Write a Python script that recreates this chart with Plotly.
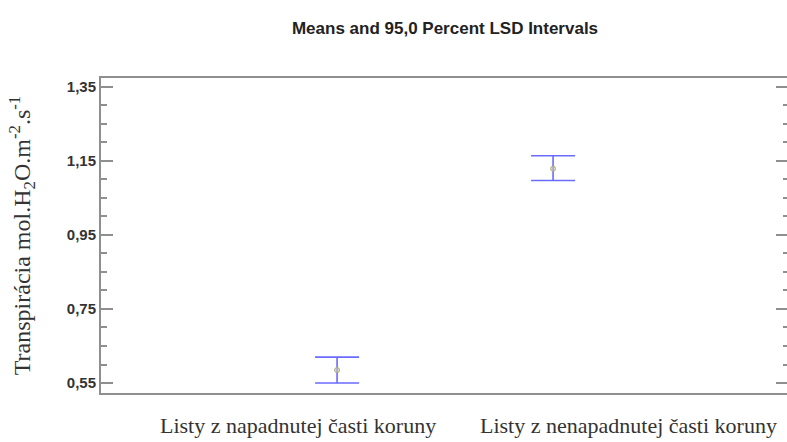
import plotly.graph_objects as go

categories = ["Listy z napadnutej časti koruny", "Listy z nenapadnutej časti koruny"]
means = [0.585, 1.129]
upper = [0.620, 1.164]
lower = [0.550, 1.097]
ytick_vals = [0.55, 0.75, 0.95, 1.15, 1.35]
ytick_text = ["0,55", "0,75", "0,95", "1,15", "1,35"]

xpos = [1, 2]
err_plus = [u - m for u, m in zip(upper, means)]
err_minus = [m - l for m, l in zip(means, lower)]

fig = go.Figure()
fig.add_trace(go.Scatter(
    x=xpos, y=means, mode="markers",
    marker=dict(size=5, color="rgba(200,200,200,0.6)", line=dict(color="#b0b070", width=1)),
    error_y=dict(type="data", symmetric=False, array=err_plus, arrayminus=err_minus,
                 color="#6b6bff", thickness=1.6, width=22),
    showlegend=False, hoverinfo="skip",
))
# invisible trace to drive the right-side axis ticks
fig.add_trace(go.Scatter(x=xpos, y=means, yaxis="y2", mode="markers",
                         marker=dict(opacity=0), showlegend=False, hoverinfo="skip"))

axis_col = "#8f8f8f"
fig.update_layout(
    width=787, height=442,
    margin=dict(l=101, r=0, t=78, b=49),
    paper_bgcolor="white", plot_bgcolor="white",
    title=dict(text="<b>Means and 95,0 Percent LSD Intervals</b>",
               x=445/787, xanchor="center", y=1 - 28/442, yanchor="middle",
               font=dict(family="Liberation Sans, Arial", size=17, color="#222")),
    xaxis=dict(range=[-0.093, 3.083], showline=True, mirror=True, linecolor=axis_col,
               linewidth=2, showgrid=False, zeroline=False, showticklabels=False, ticks=""),
    yaxis=dict(range=[0.523, 1.374], showline=True, linecolor=axis_col, linewidth=2,
               showgrid=False, zeroline=False,
               tickvals=ytick_vals, ticktext=["<b>%s</b>" % t for t in ytick_text],
               ticks="inside", ticklen=12,
               tickwidth=1.5, tickcolor=axis_col,
               tickfont=dict(family="Liberation Sans, Arial", size=15, color="#333"),
               minor=dict(dtick=0.05, tick0=0.55, ticks="inside", ticklen=6, tickwidth=1.5, tickcolor=axis_col),
               title=dict(text="Transpirácia mol.H<sub>2</sub>O.m<sup>-2</sup>.s<sup>-1</sup>",
                          font=dict(family="Liberation Serif, Times New Roman", size=24, color="#333"),
                          standoff=29)),
    yaxis2=dict(range=[0.523, 1.374], overlaying="y", side="right", showline=False,
                showgrid=False, zeroline=False, showticklabels=False,
                tickvals=ytick_vals, ticks="inside", ticklen=11, tickwidth=1.5, tickcolor=axis_col,
                minor=dict(dtick=0.05, tick0=0.55, ticks="inside", ticklen=4, tickwidth=1.5, tickcolor=axis_col)),
)

label_x = [298, 628]
for lx, txt in zip(label_x, categories):
    fig.add_annotation(text=txt, x=(lx - 101) / 686, xref="paper", y=-32 / 315, yref="paper",
                       xanchor="center", yanchor="middle", showarrow=False,
                       font=dict(family="Liberation Serif, Times New Roman", size=22, color="#333"))

fig.write_html("out.html", config={"displayModeBar": False},
               post_script="document.body.style.margin='0';document.body.style.overflow='hidden';")
